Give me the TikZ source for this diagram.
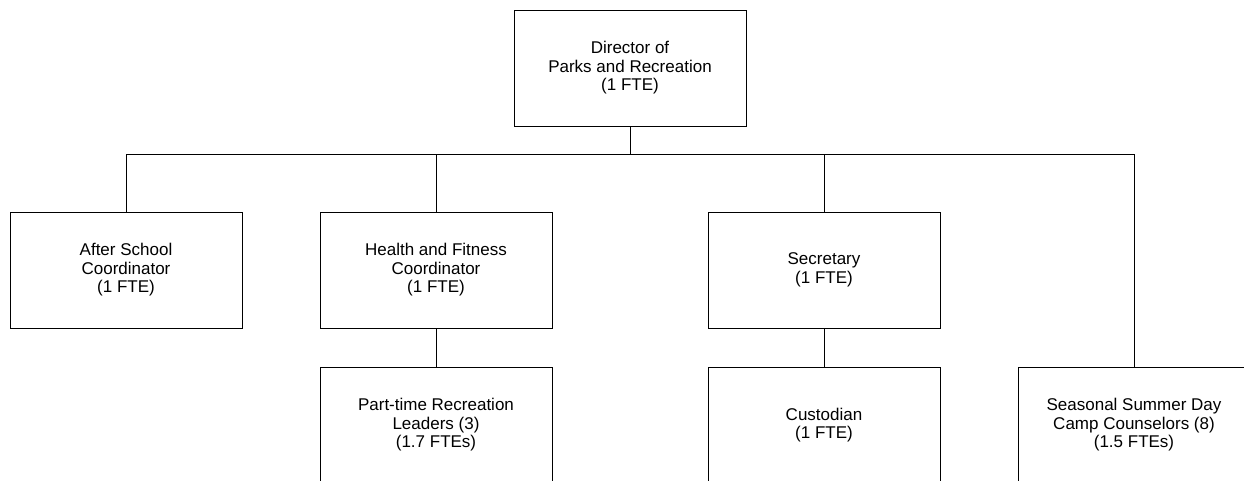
\documentclass[tikz,border=0pt]{standalone}
\usepackage{fontspec}
\setmainfont{Liberation Sans}
\begin{document}
\begin{tikzpicture}[x=1pt,y=-1pt,
  orgbox/.style={draw, line width=0.9pt, minimum width=232pt, minimum height=116pt,
    align=center, inner sep=0pt, font=\fontsize{17}{18.5}\selectfont},
  link/.style={line width=0.9pt}]
\useasboundingbox (0,0) rectangle (1244,481);
\clip (0,0) rectangle (1244,481);
\node[orgbox] (dir) at (630,68) {Director of\\Parks and Recreation\\(1 FTE)};
\node[orgbox] (after) at (126,270) {After School\\Coordinator\\(1 FTE)};
\node[orgbox] (health) at (436,270) {Health and Fitness\\Coordinator\\(1 FTE)};
\node[orgbox] (sec) at (824,270) {Secretary\\(1 FTE)};
\node[orgbox] (part) at (436,425) {Part-time Recreation\\Leaders (3)\\(1.7 FTEs)};
\node[orgbox] (cust) at (824,425) {Custodian\\(1 FTE)};
\node[orgbox] (seas) at (1134,425) {Seasonal Summer Day\\Camp Counselors (8)\\(1.5 FTEs)};
\coordinate (bus) at (630,154);
\draw[link] (dir.south) -- (bus);
\draw[link] (after.north) |- (bus);
\draw[link] (health.north) |- (bus);
\draw[link] (sec.north) |- (bus);
\draw[link] (seas.north) |- (bus);
\draw[link] (health.south) -- (part.north);
\draw[link] (sec.south) -- (cust.north);
\end{tikzpicture}
\end{document}
